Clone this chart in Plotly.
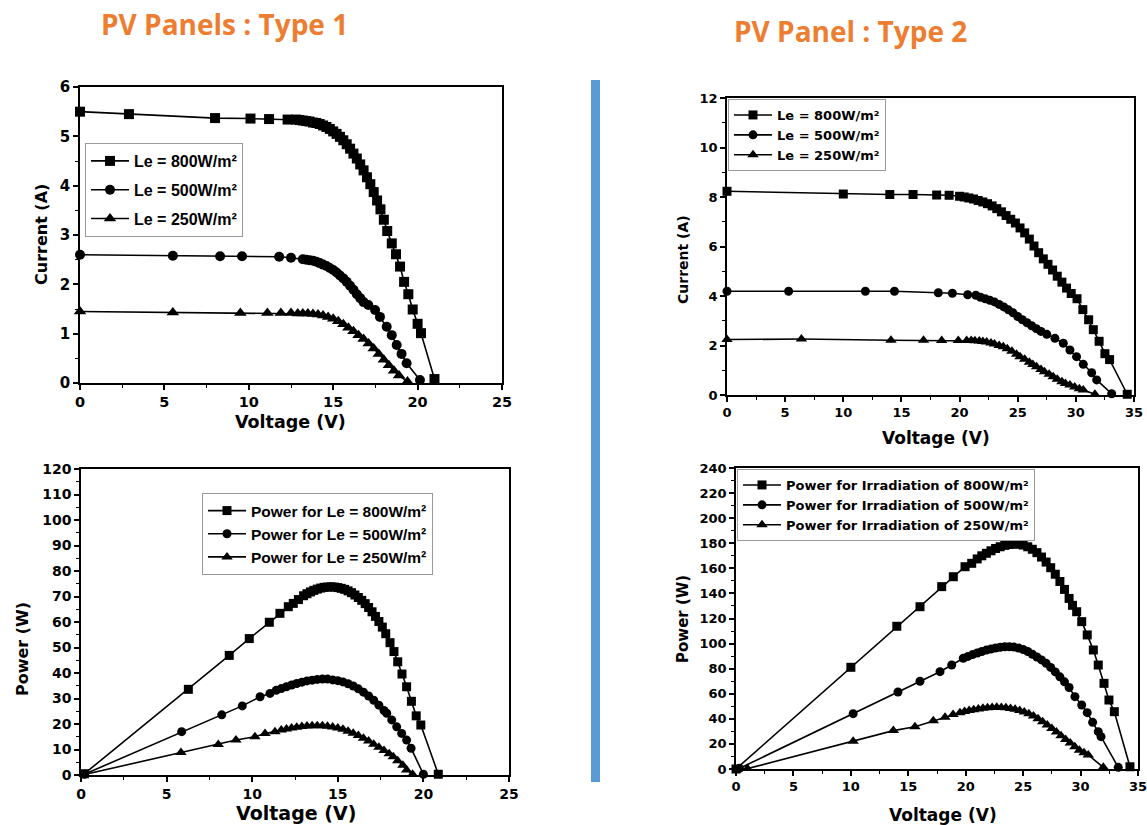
import plotly.graph_objects as go

W, H = 1147, 825

# ---------------- data ----------------
# Type 1, I-V curves: (voltage V, current A)
t1_iv_800 = [(0, 5.50), (2.9, 5.45), (8.0, 5.37), (10.1, 5.36), (11.2, 5.35), (12.3, 5.34), (12.8, 5.34),
             (13.0, 5.33), (13.2, 5.32), (13.4, 5.31), (13.6, 5.30), (13.8, 5.28), (14.0, 5.27), (14.2, 5.25),
             (14.4, 5.22), (14.6, 5.19), (14.8, 5.15), (15.0, 5.10), (15.2, 5.05), (15.4, 4.99), (15.6, 4.92),
             (15.8, 4.84), (16.0, 4.75), (16.2, 4.65), (16.4, 4.55), (16.6, 4.43), (16.8, 4.31), (17.0, 4.17),
             (17.2, 4.03), (17.4, 3.87), (17.6, 3.70), (17.8, 3.52), (18.0, 3.31), (18.2, 3.08), (18.47, 2.83),
             (18.72, 2.61), (18.96, 2.36), (19.2, 2.05), (19.45, 1.80), (19.71, 1.49), (20.0, 1.20), (20.2, 1.01),
             (21.0, 0.08)]
t1_iv_500 = [(0, 2.60), (5.5, 2.58), (8.3, 2.57), (9.6, 2.57), (11.8, 2.56), (12.5, 2.54), (13.2, 2.51),
             (13.4, 2.50), (13.6, 2.49), (13.8, 2.48), (14.0, 2.46), (14.2, 2.43), (14.4, 2.40), (14.6, 2.37),
             (14.8, 2.33), (15.0, 2.29), (15.2, 2.24), (15.4, 2.18), (15.6, 2.12), (15.8, 2.05), (16.0, 1.97),
             (16.2, 1.89), (16.4, 1.80), (16.6, 1.72), (16.8, 1.64), (17.08, 1.58), (17.48, 1.48), (17.77, 1.34),
             (18.17, 1.14), (18.47, 0.97), (18.76, 0.77), (19.05, 0.59), (19.35, 0.40), (20.14, 0.06)]
t1_iv_250 = [(0, 1.45), (5.5, 1.43), (9.5, 1.42), (11.1, 1.42), (11.9, 1.42), (12.5, 1.42), (12.9, 1.41),
             (13.2, 1.41), (13.5, 1.41), (13.8, 1.40), (14.1, 1.39), (14.4, 1.37), (14.7, 1.34), (15.0, 1.30),
             (15.3, 1.25), (15.6, 1.19), (15.9, 1.12), (16.2, 1.05), (16.5, 0.97), (16.8, 0.89), (17.1, 0.80),
             (17.4, 0.70), (17.7, 0.59), (18.0, 0.47), (18.3, 0.36), (18.6, 0.25), (18.9, 0.15), (19.4, 0.03)]

# Type 1, P-V curves: (voltage V, power W)
t1_pv_800 = [(0.2, 0.5), (6.27, 33.6), (8.66, 46.9), (9.83, 53.5), (11.0, 59.9), (11.62, 63.4), (12.11, 66.0),
             (12.4, 67.3), (12.7, 68.8), (13.0, 70.3), (13.2, 71.1), (13.4, 71.8), (13.6, 72.4), (13.8, 72.9),
             (14.0, 73.3), (14.2, 73.6), (14.4, 73.7), (14.6, 73.8), (14.8, 73.7), (15.0, 73.5), (15.2, 73.2),
             (15.4, 72.8), (15.6, 72.2), (15.8, 71.5), (16.0, 70.6), (16.2, 69.6), (16.4, 68.5), (16.6, 67.2),
             (16.8, 65.7), (17.0, 64.0), (17.2, 62.2), (17.4, 60.2), (17.6, 58.0), (17.8, 55.4), (18.05, 51.9),
             (18.28, 48.4), (18.5, 44.4), (18.75, 39.6), (19.02, 34.6), (19.3, 28.9), (19.58, 23.2), (19.85, 19.6),
             (20.87, 0.3)]
t1_pv_500 = [(0.2, 0.3), (5.88, 17.0), (8.22, 23.6), (9.42, 27.1), (10.46, 30.7), (11.04, 32.0), (11.4, 33.2),
             (11.7, 33.9), (12.0, 34.6), (12.3, 35.3), (12.6, 35.9), (12.9, 36.4), (13.2, 36.9), (13.5, 37.2),
             (13.8, 37.5), (14.1, 37.6), (14.4, 37.6), (14.7, 37.3), (15.0, 37.0), (15.3, 36.5), (15.6, 35.8),
             (15.9, 34.9), (16.2, 33.8), (16.5, 32.5), (16.8, 31.0), (17.1, 29.3), (17.4, 27.4), (17.7, 25.3),
             (17.86, 24.2), (18.15, 21.6), (18.44, 18.9), (18.73, 16.3), (19.02, 13.7), (19.28, 10.5), (20.0, 0.3)]
t1_pv_250 = [(0.2, 0.2), (5.84, 8.8), (8.02, 12.0), (9.05, 13.7), (10.16, 15.0), (10.75, 16.3), (11.33, 17.0),
             (11.7, 17.6), (12.0, 18.0), (12.3, 18.4), (12.6, 18.7), (12.9, 19.0), (13.2, 19.2), (13.5, 19.3),
             (13.8, 19.3), (14.1, 19.3), (14.4, 19.1), (14.7, 18.8), (15.0, 18.4), (15.3, 17.9), (15.6, 17.2),
             (15.9, 16.4), (16.2, 15.5), (16.5, 14.4), (16.8, 13.3), (17.1, 12.1), (17.4, 10.9), (17.7, 9.6),
             (18.0, 8.3), (18.24, 7.2), (18.5, 5.6), (18.8, 3.8), (19.02, 2.0), (19.37, 0.3)]

# Type 2, I-V curves
t2_iv_800 = [(0, 8.23), (10.0, 8.12), (14.0, 8.10), (16.0, 8.10), (18.03, 8.08), (19.1, 8.07), (20.0, 8.03),
             (20.4, 8.00), (20.8, 7.96), (21.2, 7.92), (21.6, 7.86), (22.0, 7.80), (22.4, 7.73), (22.8, 7.64),
             (23.2, 7.53), (23.6, 7.40), (24.0, 7.25), (24.4, 7.10), (24.8, 6.95), (25.2, 6.75), (25.6, 6.55),
             (26.0, 6.30), (26.4, 6.02), (26.8, 5.75), (27.2, 5.50), (27.6, 5.28), (28.0, 5.05), (28.4, 4.80),
             (28.8, 4.56), (29.2, 4.32), (29.6, 4.10), (30.1, 3.89), (30.6, 3.45), (31.1, 3.04), (31.5, 2.64),
             (32.0, 2.17), (32.5, 1.67), (32.9, 1.43), (34.42, 0.03)]
t2_iv_500 = [(0, 4.19), (5.3, 4.19), (11.9, 4.19), (14.4, 4.19), (18.17, 4.13), (19.38, 4.11), (20.7, 4.05),
             (21.4, 4.03), (21.8, 3.95), (22.2, 3.89), (22.6, 3.83), (23.0, 3.76), (23.4, 3.66), (23.8, 3.56),
             (24.2, 3.44), (24.6, 3.32), (25.0, 3.17), (25.4, 3.04), (25.8, 2.92), (26.2, 2.80), (26.6, 2.68),
             (27.0, 2.57), (27.5, 2.45), (28.2, 2.29), (28.92, 2.09), (29.49, 1.82), (30.06, 1.55), (30.64, 1.24),
             (31.36, 0.90), (31.79, 0.61), (33.08, 0.05)]
t2_iv_250 = [(0, 2.24), (6.4, 2.26), (14.1, 2.21), (16.9, 2.21), (18.46, 2.20), (19.89, 2.20), (20.61, 2.20),
             (21.0, 2.20), (21.32, 2.19), (21.7, 2.18), (22.0, 2.16), (22.33, 2.14), (22.7, 2.10), (23.0, 2.06),
             (23.4, 2.00), (23.76, 1.95), (24.1, 1.87), (24.5, 1.77), (24.9, 1.65), (25.2, 1.55), (25.6, 1.44),
             (26.0, 1.32), (26.3, 1.23), (26.62, 1.14), (27.0, 1.03), (27.3, 0.94), (27.7, 0.84), (28.05, 0.74),
             (28.4, 0.64), (28.8, 0.54), (29.1, 0.46), (29.49, 0.40), (29.9, 0.32), (30.3, 0.25), (30.64, 0.20),
             (31.64, 0.03)]

# Type 2, P-V curves
t2_pv_800 = [(0, 0), (10.0, 81.1), (14.0, 113.8), (16.02, 129.4), (17.91, 145.4), (18.92, 153.3), (19.94, 161.3),
             (20.52, 164.0), (21.0, 167.5), (21.4, 170.0), (21.8, 172.0), (22.2, 174.0), (22.6, 175.8), (23.0, 177.2),
             (23.4, 178.3), (23.8, 179.0), (24.2, 179.4), (24.6, 179.3), (25.0, 178.6), (25.4, 177.2), (25.8, 175.2),
             (26.2, 172.5), (26.6, 169.0), (27.0, 165.0), (27.4, 160.5), (27.8, 155.3), (28.2, 149.5), (28.6, 143.2),
             (29.0, 136.0), (29.3, 130.5), (29.66, 125.4), (30.1, 117.5), (30.58, 106.9), (31.11, 94.9), (31.54, 82.9),
             (32.04, 68.3), (32.47, 55.0), (32.94, 45.7), (34.3, 1.8)]
t2_pv_500 = [(0.3, 0.5), (10.2, 44.1), (14.1, 61.4), (16.02, 70.0), (17.76, 77.6), (18.78, 82.9), (19.79, 88.3),
             (20.2, 89.8), (20.6, 91.2), (21.0, 92.5), (21.4, 93.7), (21.8, 94.8), (22.2, 95.7), (22.6, 96.5),
             (23.0, 97.1), (23.4, 97.5), (23.8, 97.5), (24.2, 97.2), (24.6, 96.5), (25.0, 95.3), (25.4, 93.7),
             (25.8, 91.5), (26.2, 89.3), (26.6, 87.0), (27.0, 84.3), (27.4, 81.0), (27.8, 77.4), (28.2, 73.5),
             (28.6, 69.5), (29.0, 65.0), (29.51, 57.7), (30.1, 51.0), (30.58, 44.9), (31.05, 37.2), (31.54, 29.8),
             (31.78, 25.8), (33.28, 1.3)]
t2_pv_250 = [(1.0, 0.3), (10.2, 22.1), (13.7, 30.6), (15.58, 33.7), (17.18, 38.5), (18.2, 41.2), (18.9, 43.5),
             (19.5, 44.9), (19.9, 45.8), (20.3, 46.6), (20.7, 47.3), (21.1, 47.9), (21.5, 48.4), (21.9, 48.8),
             (22.3, 49.1), (22.7, 49.2), (23.1, 49.1), (23.5, 48.8), (23.9, 48.3), (24.3, 47.6), (24.7, 46.7),
             (25.1, 45.5), (25.5, 44.0), (25.9, 42.2), (26.3, 40.0), (26.7, 37.6), (27.1, 35.0), (27.5, 32.3),
             (27.9, 29.5), (28.3, 26.6), (28.7, 23.6), (29.1, 20.7), (29.5, 17.8), (29.9, 15.0), (30.3, 13.0),
             (30.67, 11.2), (31.98, 1.3)]

titles = ["PV Panels : Type 1", "PV Panel : Type 2"]
t1_iv_names = ["Le = 800W/m²", "Le = 500W/m²", "Le = 250W/m²"]
t1_pv_names = ["Power for Le = 800W/m²", "Power for Le = 500W/m²", "Power for Le = 250W/m²"]
t2_iv_names = ["Le = 800W/m²", "Le = 500W/m²", "Le = 250W/m²"]
t2_pv_names = ["Power for Irradiation of 800W/m²", "Power for Irradiation of 500W/m²",
               "Power for Irradiation of 250W/m²"]

# ---------------- styling helpers ----------------
SYMBOLS = ["square", "circle", "triangle-up"]
TICK_FONT = "DejaVu Sans"
ARIAL = "Liberation Sans, Arial"


def px_x(p):
    return p / W


def px_y(p):
    return 1 - p / H


fig = go.Figure()


def add_series(datasets, names, xa, ya, legend, group_prefix, msize):
    for i, (data, name) in enumerate(zip(datasets, names)):
        xs = [d[0] for d in data]
        ys = [d[1] for d in data]
        fig.add_trace(go.Scatter(
            x=xs, y=ys, name=name, mode="lines+markers",
            xaxis=xa, yaxis=ya, legend=legend,
            legendgroup=f"{group_prefix}{i}",
            line=dict(color="black", width=1.6),
            marker=dict(symbol=SYMBOLS[i], size=msize if i != 2 else msize + 1, color="black",
                        line=dict(width=0)),
            cliponaxis=False,
        ))


add_series([t1_iv_800, t1_iv_500, t1_iv_250], t1_iv_names, "x", "y", "legend", "a", 10)
add_series([t2_iv_800, t2_iv_500, t2_iv_250], t2_iv_names, "x2", "y2", "legend2", "b", 9)
add_series([t1_pv_800, t1_pv_500, t1_pv_250], t1_pv_names, "x3", "y3", "legend3", "c", 9)
add_series([t2_pv_800, t2_pv_500, t2_pv_250], t2_pv_names, "x4", "y4", "legend4", "d", 9)


def axis(domain, rng, dtick, minor_dtick, anchor, size):
    return dict(
        domain=domain, range=rng, dtick=dtick, tick0=0, anchor=anchor,
        automargin=False, ticklabeloverflow="allow",
        showgrid=False, zeroline=False,
        showline=True, linecolor="black", linewidth=1.5, mirror=True,
        ticks="outside", ticklen=5, tickwidth=1.5, tickcolor="black",
        minor=dict(dtick=minor_dtick, ticks="outside", ticklen=3, tickwidth=1, tickcolor="black"),
        tickfont=dict(family=TICK_FONT, size=size, color="black", weight="bold"),
        fixedrange=True,
    )


layout = dict(
    width=W, height=H,
    margin=dict(l=0, r=0, t=0, b=0, autoexpand=False),
    paper_bgcolor="white", plot_bgcolor="white",
    # top-left: Type 1 I-V
    xaxis=axis([px_x(80), px_x(502)], [0, 25], 5, 2.5, "y", 14.5),
    yaxis=axis([px_y(383), px_y(87)], [0, 6], 1, 0.5, "x", 15),
    # top-right: Type 2 I-V
    xaxis2=axis([px_x(727), px_x(1134)], [0, 35], 5, 2.5, "y2", 13),
    yaxis2=axis([px_y(395), px_y(98)], [0, 12], 2, 1, "x2", 13),
    # bottom-left: Type 1 P-V
    xaxis3=axis([px_x(81), px_x(509)], [0, 25], 5, 2.5, "y3", 14),
    yaxis3=axis([px_y(775), px_y(469)], [0, 120], 10, 5, "x3", 14),
    # bottom-right: Type 2 P-V
    xaxis4=axis([px_x(736), px_x(1138)], [0, 35], 5, 2.5, "y4", 13),
    yaxis4=axis([px_y(769), px_y(468)], [0, 240], 20, 10, "x4", 13),
    showlegend=True,
)


def legend_box(x, y, family, size, gap, order):
    return dict(
        x=x, y=y, xanchor="left", yanchor="top", xref="paper", yref="paper",
        bgcolor="white", bordercolor="#9a9a9a", borderwidth=1,
        font=dict(family=family, size=size, color="black", weight="bold"),
        itemwidth=38, tracegroupgap=gap, traceorder=order,
        itemclick=False, itemdoubleclick=False,
    )


layout["legend"] = legend_box(px_x(85), px_y(143), ARIAL, 16, 5, "grouped")
layout["legend2"] = legend_box(px_x(728), px_y(99), "DejaVu Sans", 13, 0, "normal")
layout["legend3"] = legend_box(px_x(202), px_y(493), ARIAL, 15.5, 0, "normal")
layout["legend4"] = legend_box(px_x(737), px_y(469), "DejaVu Sans", 13, 0, "normal")

fig.update_layout(**layout)

orange = "#ED7D31"
ann = [
    dict(text=titles[0], x=px_x(224), y=px_y(24), font=dict(family="Open Sans", size=28, color=orange, weight="bold")),
    dict(text=titles[1], x=px_x(850), y=px_y(31), font=dict(family="Open Sans", size=28, color=orange, weight="bold")),
    # axis titles
    dict(text="Voltage (V)", x=px_x(290), y=px_y(422), font=dict(family=TICK_FONT, size=17.5, color="black", weight="bold")),
    dict(text="Current (A)", x=px_x(41), y=px_y(235), textangle=-90,
         font=dict(family=TICK_FONT, size=16, color="black", weight="bold")),
    dict(text="Voltage (V)", x=px_x(936), y=px_y(438), font=dict(family=TICK_FONT, size=17, color="black", weight="bold")),
    dict(text="Current (A)", x=px_x(683), y=px_y(260), textangle=-90,
         font=dict(family=TICK_FONT, size=14, color="black", weight="bold")),
    dict(text="Voltage (V)", x=px_x(296), y=px_y(813), font=dict(family=TICK_FONT, size=19, color="black", weight="bold")),
    dict(text="Power (W)", x=px_x(22), y=px_y(649), textangle=-90,
         font=dict(family=TICK_FONT, size=16, color="black", weight="bold")),
    dict(text="Voltage (V)", x=px_x(943), y=px_y(815), font=dict(family=TICK_FONT, size=17, color="black", weight="bold")),
    dict(text="Power (W)", x=px_x(683), y=px_y(619), textangle=-90,
         font=dict(family=TICK_FONT, size=15, color="black", weight="bold")),
]
for a in ann:
    a.update(xref="paper", yref="paper", showarrow=False, xanchor="center", yanchor="middle")
fig.update_layout(annotations=ann)

# blue separator bar
fig.add_shape(type="rect", xref="paper", yref="paper",
              x0=px_x(591), x1=px_x(600), y0=px_y(782), y1=px_y(80),
              fillcolor="#5B9BD5", line=dict(width=0), layer="above")

# remove the page's default 8px body margin so the 1147x825 figure fills the window exactly
fig.write_html(
    "out.html",
    config={"displayModeBar": False},
    post_script="document.body.style.margin='0px';document.body.style.padding='0px';"
                "document.body.style.overflow='hidden';",
)
